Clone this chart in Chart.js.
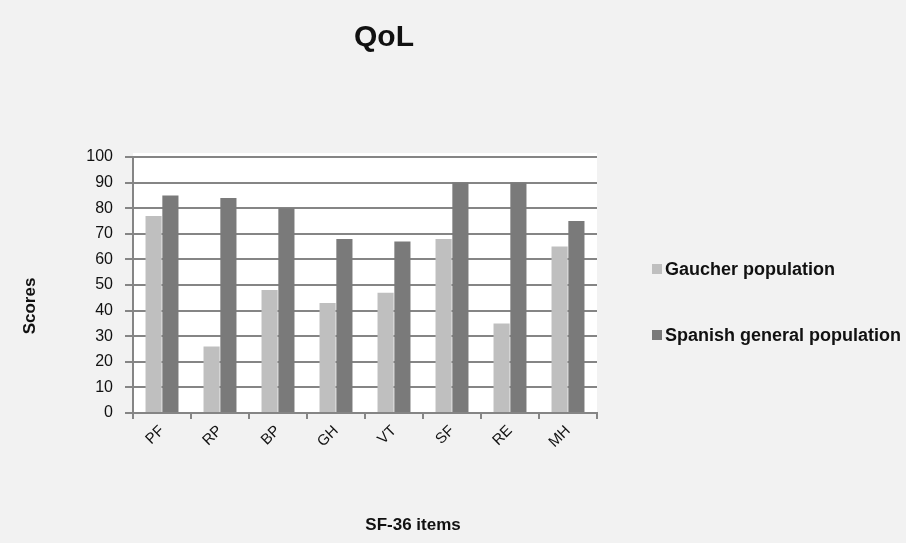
<!DOCTYPE html>
<html>
<head>
<meta charset="utf-8">
<script src="https://cdn.jsdelivr.net/npm/chart.js@4/dist/chart.umd.min.js"></script>
<style>
  html, body { margin: 0; padding: 0; background: #f2f2f2; }
  #wrap { width: 906px; height: 543px; }
</style>
</head>
<body>
<div id="wrap"><canvas id="qol" width="906" height="543"></canvas></div>
<script>
// SF-36 quality-of-life scores by item
const categories = ['PF', 'RP', 'BP', 'GH', 'VT', 'SF', 'RE', 'MH'];
const gaucherScores = [77, 26, 48, 43, 47, 68, 35, 65];
const spanishScores = [85, 84, 80, 68, 67, 90, 90, 75];
const seriesNames = ['Gaucher population', 'Spanish general population'];
const yTickMin = 0;
const yTickMax = 100;
const yTickStep = 10;
const chartTitle = 'QoL';
const xAxisTitle = 'SF-36 items';
const yAxisTitle = 'Scores';

const FONT = '"Liberation Sans", Arial, sans-serif';
const LIGHT = '#bfbfbf';
const DARK = '#7a7a7a';
const LINE = '#858585';

// Page background, white plot area, and the text around the plot
const decorations = {
  id: 'decorations',
  beforeDraw(chart) {
    const { ctx, chartArea: a } = chart;
    ctx.save();
    ctx.fillStyle = '#f2f2f2';
    ctx.fillRect(0, 0, chart.width, chart.height);
    ctx.fillStyle = '#ffffff';
    ctx.fillRect(a.left, a.top - 4, a.right - a.left, a.bottom - a.top + 4);
    ctx.restore();
  },
  afterDraw(chart) {
    const { ctx } = chart;
    ctx.save();
    ctx.fillStyle = '#111';
    ctx.textAlign = 'center';
    ctx.textBaseline = 'middle';

    ctx.font = 'bold 30px ' + FONT;
    ctx.fillText(chartTitle, 384, 38);

    ctx.font = 'bold 17px ' + FONT;
    ctx.fillText(xAxisTitle, 413, 525);

    ctx.save();
    ctx.translate(30, 306);
    ctx.rotate(-Math.PI / 2);
    ctx.fillText(yAxisTitle, 0, 0);
    ctx.restore();

    // legend
    const rows = [269, 335];
    ctx.textAlign = 'left';
    ctx.font = 'bold 18px ' + FONT;
    chart.data.datasets.forEach((ds, i) => {
      ctx.fillStyle = ds.backgroundColor;
      ctx.fillRect(652, rows[i] - 5, 10, 10);
      ctx.fillStyle = '#111';
      ctx.fillText(ds.label, 665, rows[i] + 1);
    });
    ctx.restore();
  }
};

new Chart(document.getElementById('qol'), {
  type: 'bar',
  data: {
    labels: categories,
    datasets: [
      { label: seriesNames[0], data: gaucherScores, backgroundColor: LIGHT,
        barPercentage: 0.96, categoryPercentage: 0.58 },
      { label: seriesNames[1], data: spanishScores, backgroundColor: DARK,
        barPercentage: 0.96, categoryPercentage: 0.58 }
    ]
  },
  options: {
    responsive: false,
    animation: false,
    devicePixelRatio: 1,
    layout: { padding: { left: 16, right: 309, top: 157, bottom: 0 } },
    plugins: {
      legend: { display: false },
      title: { display: false },
      tooltip: { enabled: false }
    },
    scales: {
      x: {
        afterFit(scale) { scale.height = 130; },
        grid: { drawOnChartArea: false, drawTicks: true, tickLength: 6, color: LINE, lineWidth: 2 },
        border: { color: LINE, width: 2 },
        ticks: {
          minRotation: 45, maxRotation: 45, padding: 3,
          color: '#111', font: { family: FONT, size: 15 }
        }
      },
      y: {
        min: yTickMin, max: yTickMax,
        afterFit(scale) { scale.width = 117; },
        grid: { color: LINE, lineWidth: 2, tickLength: 8 },
        border: { color: LINE, width: 2 },
        ticks: {
          stepSize: yTickStep, padding: 12,
          color: '#111', font: { family: FONT, size: 16 }
        }
      }
    }
  },
  plugins: [decorations]
});
</script>
</body>
</html>
